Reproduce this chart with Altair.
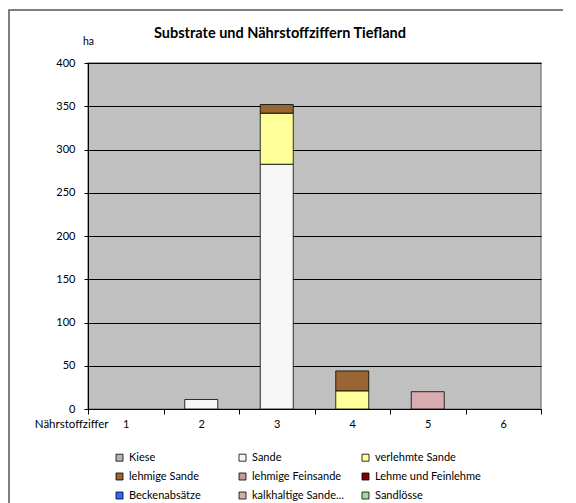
import altair as alt
import pandas as pd

categories = [1, 2, 3, 4, 5, 6]
substrates = ["Kiese", "Sande", "verlehmte Sande", "lehmige Sande", "lehmige Feinsande",
              "Lehme und Feinlehme", "Beckenabsätze", "kalkhaltige Sande...", "Sandlösse"]
colors = ["#B4B4B4", "#F6F6F6", "#FFFF99", "#996633", "#C99A9A",
          "#800000", "#3366FF", "#D8ABAE", "#A6D6A6"]

kiese = [0, 0, 0, 0, 0, 0]
sande = [0, 11, 283, 0, 0, 0]
verlehmte_sande = [0, 0, 59, 21, 0, 0]
lehmige_sande = [0, 0, 10, 23, 0, 0]
lehmige_feinsande = [0, 0, 0, 0, 0, 0]
lehme_feinlehme = [0, 0, 0, 0, 0, 0]
beckenabsaetze = [0, 0, 0, 0, 0, 0]
kalkhaltige_sande = [0, 0, 0, 0, 20, 0]
sandloesse = [0, 0, 0, 0, 0, 0]

series = [kiese, sande, verlehmte_sande, lehmige_sande, lehmige_feinsande,
          lehme_feinlehme, beckenabsaetze, kalkhaltige_sande, sandloesse]

y_ticks = [0, 50, 100, 150, 200, 250, 300, 350, 400]
title_text = "Substrate und Nährstoffziffern Tiefland"

rows = []
for si, (name, vals) in enumerate(zip(substrates, series)):
    for c, v in zip(categories, vals):
        rows.append({"Nährstoffziffer": c, "Substrat": name, "ha": v, "ord": si})
df = pd.DataFrame(rows)

FONT = "Lato"

bars = alt.Chart(df).transform_filter("datum.ha > 0").mark_bar(
    stroke="black", strokeWidth=0.8, width=alt.RelativeBandSize(0.437)
).encode(
    x=alt.X("Nährstoffziffer:O",
            scale=alt.Scale(domain=categories, paddingInner=0, paddingOuter=0),
            axis=alt.Axis(tickBand="extent", labelAngle=0, title="Nährstoffziffer",
                          titleAngle=0, titleAlign="right", titleBaseline="middle",
                          titleX=20, titleY=15, titleFontWeight="normal",
                          titleFontSize=11.5, labelFontSize=11,
                          tickSize=5, labelPadding=4, labelBaseline="top",
                          domainColor="black", tickColor="black", grid=False)),
    y=alt.Y("ha:Q", stack="zero",
            scale=alt.Scale(domain=[0, 400], nice=False),
            axis=alt.Axis(values=y_ticks, grid=True, gridColor="black", gridWidth=1,
                          title="ha", titleAngle=0, titleAlign="center",
                          titleBaseline="middle", titleX=0, titleY=-22,
                          titleFontWeight="normal", titleFontSize=10.5,
                          labelFontSize=11,
                          tickSize=4, labelPadding=9,
                          domainColor="black", tickColor="black")),
    color=alt.Color("Substrat:N",
                    scale=alt.Scale(domain=substrates, range=colors),
                    legend=alt.Legend(orient="none", legendX=26, legendY=389,
                                      columns=3, direction="horizontal", gridAlign="all",
                                      title=None,
                                      symbolType="square", symbolSize=49,
                                      symbolStrokeColor="black", symbolStrokeWidth=0.8,
                                      labelOffset=4, columnPadding=2, rowPadding=7,
                                      padding=0, labelFont=FONT, labelFontSize=11,
                                      labelColor="black")),
    order=alt.Order("ord:Q", sort="ascending"),
)

frame = alt.Chart(alt.Data(values=[{}])).mark_rect(
    fillOpacity=0, stroke="#555555", strokeWidth=1.5
).encode(
    x=alt.value(-79), y=alt.value(-53), x2=alt.value(520), y2=alt.value(520)
)

title = alt.Chart(alt.Data(values=[{"t": title_text}])).mark_text(
    font=FONT, fontSize=14.5, fontWeight="bold", color="black",
    align="center", baseline="middle"
).encode(
    x=alt.value(192), y=alt.value(-29), text="t:N"
)

chart = alt.layer(bars, frame, title).properties(
    width=453, height=346,
    background="white",
    view=alt.ViewBackground(fill="#C0C0C0", stroke="#888888", strokeWidth=1.5),
    autosize=alt.AutoSizeParams(type="none"),
    padding={"left": 80, "top": 55, "right": 22, "bottom": 95},
).configure_axis(
    labelFont=FONT, titleFont=FONT,
    labelColor="black", titleColor="black"
)

chart.save("out.html", embed_options={"renderer": "svg", "actions": False})
